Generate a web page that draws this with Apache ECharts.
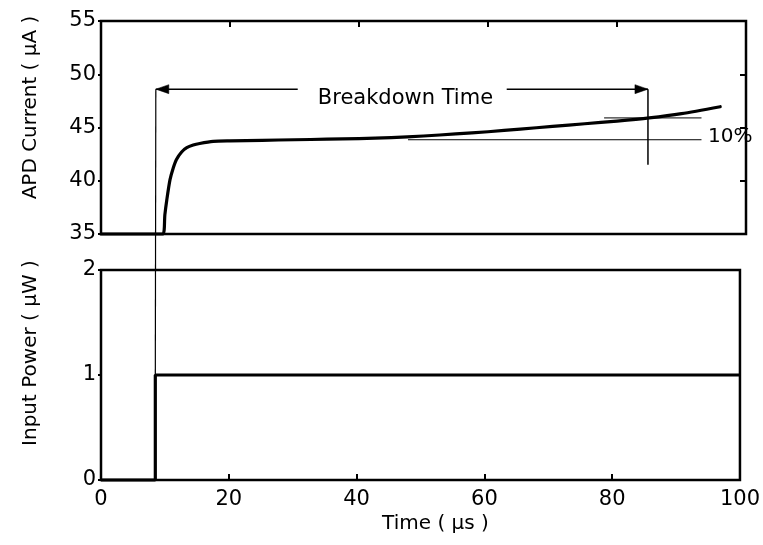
<!DOCTYPE html>
<html>
<head>
<meta charset="utf-8">
<script src="https://cdn.jsdelivr.net/npm/echarts@6/dist/echarts.min.js"></script>
<style>
html,body{margin:0;padding:0;background:#fff;}
#main{width:763px;height:545px;}
</style>
</head>
<body>
<div id="main"></div>
<script>
// ---- data ----
var timeTicks = [0, 20, 40, 60, 80, 100];
var apdTicks = [35, 40, 45, 50, 55];
var powerTicks = [0, 1, 2];

var apdTime =    [0, 9.6, 9.9, 10.2, 10.7, 11.2, 11.7, 12.5, 13.3, 14.3, 15.3, 17.4, 20, 25, 30, 35, 40, 45, 50, 55, 60, 65, 70, 75, 80, 85, 90, 96];
var apdCurrent = [35, 35, 36.8, 38.2, 40.1, 41.2, 42.0, 42.7, 43.1, 43.35, 43.5, 43.7, 43.75, 43.8, 43.85, 43.9, 43.95, 44.05, 44.2, 44.4, 44.6, 44.85, 45.1, 45.35, 45.6, 45.9, 46.3, 46.95];

var powerTime =  [0, 8.5, 8.5, 100];
var powerValue = [0, 0, 1, 1];

// annotation values (data units)
var stepTime = 8.5;          // light switched on
var breakdownEnd = 84.8;     // end of breakdown time
var arrowLevel = 48.6;       // level of the arrow (µA)
var arrowGapStart = 30.5;    // arrow line broken for the label
var arrowGapEnd = 62.9;
var labelPos = [47.2, 47.7];
var endLineBottom = 41.5;
var steadyLevel = 43.85;     // steady-state current
var tenPctLevel = 45.9;      // +10 % level
var steadyLineStart = 47.6;
var tenPctLineStart = 78;
var refLineEnd = 93.1;
var tenPctLabelPos = [94.1, 44.15];

var FONT = 'DejaVu Sans';

var chart = echarts.init(document.getElementById('main'), null, {renderer: 'canvas'});

function zip(a, b) { return a.map(function (v, i) { return [v, b[i]]; }); }

var option = {
  backgroundColor: '#fff',
  animation: false,
  grid: [
    {left: 101, top: 21, width: 645, height: 213, show: true, borderColor: '#000', borderWidth: 2.5, backgroundColor: 'transparent'},
    {left: 101, top: 270, width: 642, height: 210, show: true, borderColor: '#000', borderWidth: 2.5, backgroundColor: 'transparent'}
  ],
  xAxis: [
    {type: 'value', gridIndex: 0, position: 'top', min: 0, max: 100, interval: 20,
     axisLine: {show: false}, axisTick: {show: true, inside: true, length: 6, lineStyle: {color: '#000', width: 2}},
     axisLabel: {show: false}, splitLine: {show: false}},
    {type: 'value', gridIndex: 1, position: 'bottom', min: 0, max: 100, interval: 20,
     axisLine: {show: false}, axisTick: {show: true, inside: true, length: 6, lineStyle: {color: '#000', width: 2}},
     axisLabel: {show: true, color: '#000', fontFamily: FONT, fontSize: 21, margin: 9,
       formatter: function (v) { return timeTicks.indexOf(v) >= 0 ? String(v) : ''; }},
     splitLine: {show: false},
     name: 'Time ( \u03bcs )', nameLocation: 'middle', nameGap: 34,
     nameTextStyle: {color: '#000', fontFamily: FONT, fontSize: 20, padding: [0, 0, 0, 30]}}
  ],
  yAxis: [
    {type: 'value', gridIndex: 0, position: 'left', min: 35, max: 55, interval: 5,
     axisLine: {show: false}, axisTick: {show: true, inside: false, length: 3, lineStyle: {color: '#000', width: 2}},
     axisLabel: {show: true, color: '#000', fontFamily: FONT, fontSize: 21, margin: 5,
       formatter: function (v) { return apdTicks.indexOf(v) >= 0 ? String(v) : ''; }},
     splitLine: {show: false},
     name: 'APD Current ( \u03bcA )', nameLocation: 'middle', nameGap: 60, nameRotate: 90,
     nameTextStyle: {color: '#000', fontFamily: FONT, fontSize: 20, padding: [0, 0, 0, 40]}},
    {type: 'value', gridIndex: 0, position: 'right', min: 35, max: 55, interval: 5,
     axisLine: {show: false}, axisTick: {show: true, inside: true, length: 6, lineStyle: {color: '#000', width: 2}},
     axisLabel: {show: false}, splitLine: {show: false}},
    {type: 'value', gridIndex: 1, position: 'left', min: 0, max: 2, interval: 1,
     axisLine: {show: false}, axisTick: {show: true, inside: false, length: 3, lineStyle: {color: '#000', width: 2}},
     axisLabel: {show: true, color: '#000', fontFamily: FONT, fontSize: 21, margin: 5,
       formatter: function (v) { return powerTicks.indexOf(v) >= 0 ? String(v) : ''; }},
     splitLine: {show: false},
     name: 'Input Power ( \u03bcW )', nameLocation: 'middle', nameGap: 60, nameRotate: 90,
     nameTextStyle: {color: '#000', fontFamily: FONT, fontSize: 20, padding: [0, 0, 0, 44]}}
  ],
  series: [
    {type: 'line', xAxisIndex: 0, yAxisIndex: 0, data: zip(apdTime, apdCurrent),
     showSymbol: false, symbol: 'none', smooth: 0.25, clip: false,
     lineStyle: {color: '#000', width: 3.2, join: 'round', cap: 'round'}},
    {type: 'line', xAxisIndex: 1, yAxisIndex: 2, data: zip(powerTime, powerValue),
     showSymbol: false, symbol: 'none', clip: false,
     lineStyle: {color: '#000', width: 3.2}}
  ]
};
chart.setOption(option);

// ---- annotations computed through the chart's own scales ----
function px(grid, x, y) { return chart.convertToPixel({gridIndex: grid}, [x, y]); }
function line(p1, p2, w) {
  return {type: 'line', z: 50, shape: {x1: p1[0], y1: p1[1], x2: p2[0], y2: p2[1]},
    style: {stroke: '#000', lineWidth: w || 1.2}};
}
function arrowHead(tip, dir) { // dir: -1 pointing left, 1 pointing right
  var L = 13, H = 4.5;
  return {type: 'polygon', z: 51, shape: {points: [[tip[0], tip[1]], [tip[0] - dir * L, tip[1] - H], [tip[0] - dir * L, tip[1] + H]]},
    style: {fill: '#000', stroke: '#000', lineWidth: 0.5}};
}

var pStepTop = px(0, stepTime, arrowLevel);
var pStepBot = px(1, stepTime, 1);
var pGapA = px(0, arrowGapStart, arrowLevel);
var pGapB = px(0, arrowGapEnd, arrowLevel);
var pEndTop = px(0, breakdownEnd, arrowLevel);
var pEndBot = px(0, breakdownEnd, endLineBottom);
var pSteadyA = px(0, steadyLineStart, steadyLevel);
var pSteadyB = px(0, refLineEnd, steadyLevel);
var pTenA = px(0, tenPctLineStart, tenPctLevel);
var pTenB = px(0, refLineEnd, tenPctLevel);
var pLabel = px(0, labelPos[0], labelPos[1]);
var pTenLabel = px(0, tenPctLabelPos[0], tenPctLabelPos[1]);

chart.setOption({
  graphic: [
    line(pStepTop, pStepBot, 1.2),
    line(pStepTop, pGapA, 1.5),
    line(pGapB, pEndTop, 1.5),
    line(pEndTop, pEndBot, 1.5),
    line(pSteadyA, pSteadyB, 1),
    line(pTenA, pTenB, 1),
    arrowHead(pStepTop, -1),
    arrowHead(pEndTop, 1),
    {type: 'text', z: 52, x: pLabel[0], y: pLabel[1],
     style: {text: 'Breakdown Time', fill: '#000', font: '21px "DejaVu Sans"', align: 'center', verticalAlign: 'middle'}},
    {type: 'text', z: 52, x: pTenLabel[0], y: pTenLabel[1],
     style: {text: '10%', fill: '#000', font: '20px "DejaVu Sans"', align: 'left', verticalAlign: 'middle'}}
  ]
});
</script>
</body>
</html>
